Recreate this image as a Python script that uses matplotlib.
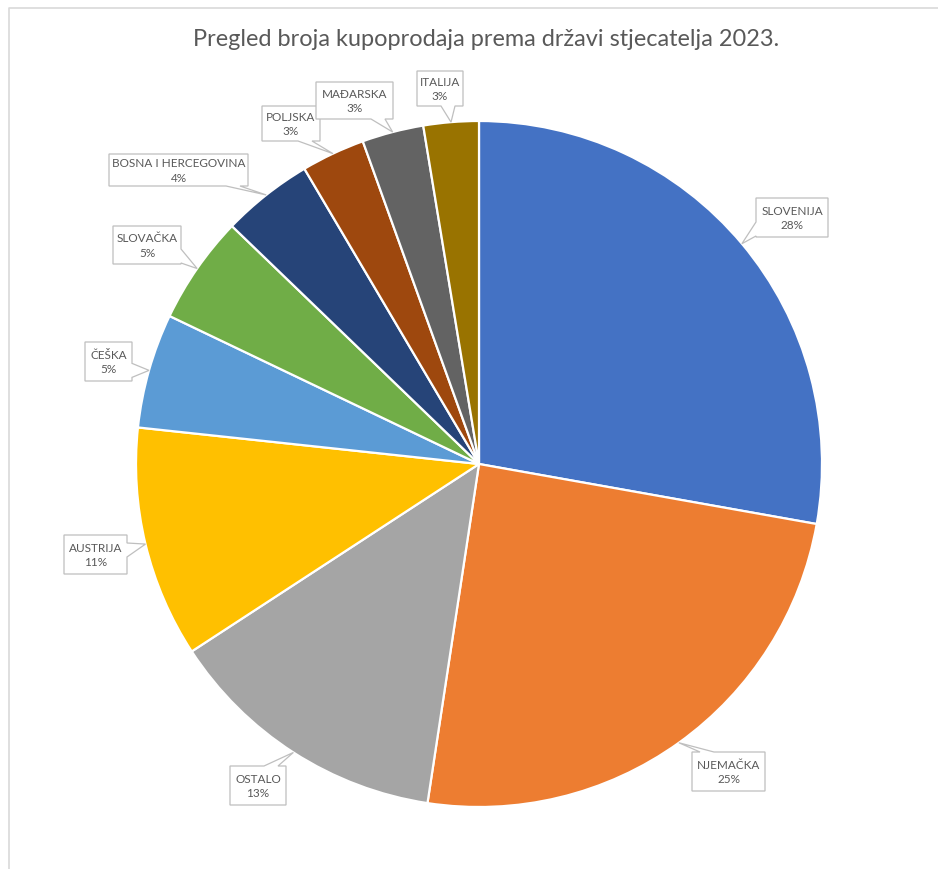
import matplotlib
matplotlib.use('Agg')
import matplotlib.pyplot as plt
from matplotlib.patches import Polygon
import numpy as np

plt.rcParams['font.family'] = ['Lato', 'DejaVu Sans']

W, H = 938, 870

# podaci
countries = ['SLOVENIJA', 'NJEMAČKA', 'OSTALO', 'AUSTRIJA', 'ČEŠKA',
             'SLOVAČKA', 'BOSNA I HERCEGOVINA', 'POLJSKA', 'MAĐARSKA', 'ITALIJA']
shares = [27.8, 24.6, 13.4, 10.9, 5.4, 5.1, 4.3, 3.0, 2.9, 2.6]
colors = ['#4472C4', '#ED7D31', '#A5A5A5', '#FFC000', '#5B9BD5',
          '#70AD47', '#264478', '#9E480E', '#636363', '#997300']

# raspored oblačića (pikseli: x0, y0, x1, y1) i strana repa
boxes = [(756, 199, 828, 238), (692, 753, 765, 792), (230, 767, 286, 806),
         (64, 536, 127, 575), (85, 343, 132, 382), (113, 227, 181, 265),
         (109, 155, 248, 187), (262, 107, 320, 142), (316, 83, 393, 120),
         (417, 72, 463, 107)]
sides = ['left', 'top', 'top', 'right', 'right', 'right',
         'bottom', 'bottom', 'bottom', 'bottom']

cx, cy, R = 479, 465, 343


def fy(y):
    return H - y


fig = plt.figure(figsize=(W / 100, H / 100), dpi=100)
ax = fig.add_axes([0, 0, 1, 1])
wedges, _ = ax.pie(shares, colors=colors, startangle=90, counterclock=False,
                   center=(cx, fy(cy)), radius=R,
                   wedgeprops=dict(edgecolor='white', linewidth=1.6))
ax.set_xlim(0, W)
ax.set_ylim(0, H)
ax.set_aspect('equal')
ax.axis('off')

# okvir grafikona
ax.plot([9, 9, W], [0, fy(9), fy(9)], color='#d9d9d9', lw=1.2)

ax.text(486, fy(40), 'Pregled broja kupoprodaja prema državi stjecatelja 2023.',
        ha='center', va='center', fontsize=16.9, color='#595959')


def callout(box, side, anchor):
    x0, y0, x1, y1 = box
    ax_, ay_ = anchor
    hw = 7
    if side in ('left', 'right'):
        c = min(max(ay_, y0 + 8 + hw), y1 - 8)
        c = min(c, y1 - hw - 1)
        xe = x0 if side == 'left' else x1
        tail = [(xe, c - hw), (ax_, ay_), (xe, c + hw)]
    else:
        c = min(max(ax_, x0 + 8 + hw), x1 - 8 - hw)
        ye = y0 if side == 'top' else y1
        tail = [(c - hw, ye), (ax_, ay_), (c + hw, ye)]
    # obilazak pravokutnika u smjeru kazaljke (pikseli)
    if side == 'top':
        pts = [(x0, y0)] + tail + [(x1, y0), (x1, y1), (x0, y1)]
    elif side == 'right':
        pts = [(x0, y0), (x1, y0)] + tail + [(x1, y1), (x0, y1)]
    elif side == 'bottom':
        pts = [(x0, y0), (x1, y0), (x1, y1)] + tail[::-1] + [(x0, y1)]
    else:
        pts = [(x0, y0), (x1, y0), (x1, y1), (x0, y1)] + tail[::-1]
    ax.add_patch(Polygon([(p[0], fy(p[1])) for p in pts], closed=True,
                         fc='white', ec='#bfbfbf', lw=0.9, zorder=5))


for w, name, val, box, side in zip(wedges, countries, shares, boxes, sides):
    th = np.deg2rad((w.theta1 + w.theta2) / 2)
    anchor = (cx + R * np.cos(th), cy - R * np.sin(th))
    callout(box, side, anchor)
    bx = (box[0] + box[2]) / 2
    by = (box[1] + box[3]) / 2
    ax.text(bx, fy(by), f'{name}\n{round(val):.0f}%', ha='center', va='center',
            fontsize=8.5, color='#595959', linespacing=1.35, zorder=6)

fig.savefig('out.png', dpi=100)
plt.close(fig)
